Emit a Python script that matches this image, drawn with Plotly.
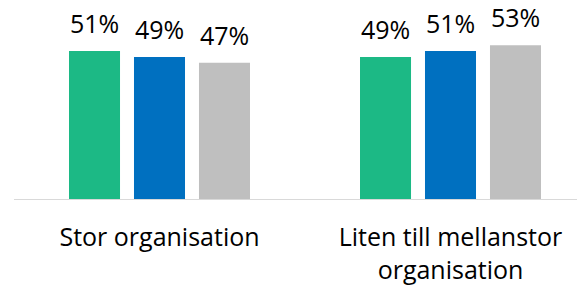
import plotly.graph_objects as go

categories = ["Stor organisation", "Liten till mellanstor<br>organisation"]
series_names = ["Serie 1", "Serie 2", "Serie 3"]
series_values = [
    [51, 49],
    [49, 51],
    [47, 53],
]
series_colors = ["#1CB985", "#0070C0", "#BFBFBF"]

FONT = "Open Sans"
FS = 25
fig = go.Figure()
for name, vals, col in zip(series_names, series_values, series_colors):
    fig.add_trace(go.Bar(x=categories, y=vals, name=name, marker=dict(color=col, line=dict(width=0)),
                         hoverinfo="skip"))

# data labels
offsets = [-65, 0, 65]
for i, vals in enumerate(series_values):
    for j, v in enumerate(vals):
        fig.add_annotation(x=categories[j], y=v, text=f"{v}%", showarrow=False,
                           xshift=offsets[i], yanchor="bottom", yshift=9,
                           font=dict(family=FONT, size=FS, color="#000000"))

fig.update_layout(
    width=577, height=290,
    margin=dict(l=14, r=0, t=0, b=91),
    barmode="group", bargap=0.33, bargroupgap=0.215,
    showlegend=False,
    plot_bgcolor="white", paper_bgcolor="white",
    font=dict(family=FONT, size=FS, color="#000000"),
)
fig.update_xaxes(range=[-0.5, -0.5 + 563 / 291], showline=True, linecolor="#D9D9D9", linewidth=1,
                 ticks="", ticklabelstandoff=16, tickfont=dict(family=FONT, size=FS, color="#000000"),
                 showgrid=False, zeroline=False, fixedrange=True)
fig.update_yaxes(range=[0, 199 / 2.9], visible=False, showgrid=False, zeroline=False)

fig.write_html("out.html", config={"displayModeBar": False, "staticPlot": True},
               post_script="document.body.style.margin='0px';document.body.style.overflow='hidden';")
